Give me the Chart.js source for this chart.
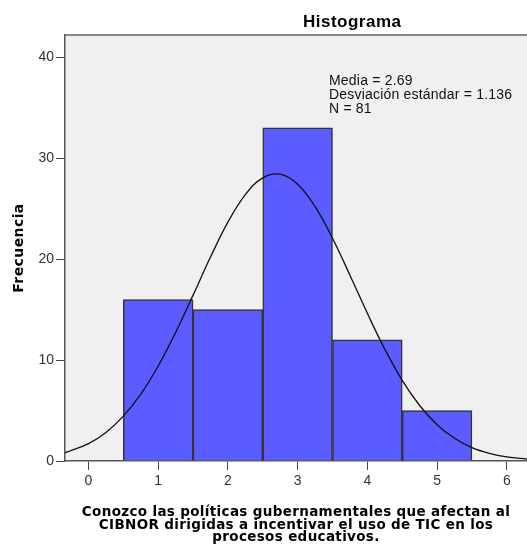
<!DOCTYPE html>
<html><head><meta charset="utf-8">
<script src="https://cdn.jsdelivr.net/npm/chart.js@4/dist/chart.umd.min.js"></script>
<style>html,body{margin:0;padding:0;background:#fff}#wrap{width:527px;height:552px;position:relative}</style>
</head><body><div id="wrap"><canvas id="c" width="527" height="552"></canvas></div>
<script>
// ---- data ----
const categories = [1, 2, 3, 4, 5];
const frequencies = [16, 15, 33, 12, 5];
const curveX = [-0.34, 0, 0.25, 0.5, 0.75, 1, 1.25, 1.5, 1.75, 2, 2.25, 2.5, 2.75, 3, 3.25, 3.5, 3.75, 4, 4.25, 4.5, 4.75, 5, 5.25, 5.5, 5.75, 6, 6.3];
const curveY = [0.81, 1.72, 2.83, 4.44, 6.62, 9.41, 12.74, 16.43, 20.20, 23.66, 26.39, 28.05, 28.41, 27.41, 25.19, 22.07, 18.41, 14.63, 11.08, 7.99, 5.50, 3.60, 2.25, 1.33, 0.76, 0.41, 0.18];
const xTicks = [0, 1, 2, 3, 4, 5, 6];
const yTicks = [0, 10, 20, 30, 40];
const titleText = 'Histograma';
const statsLines = ['Media = 2.69', 'Desviación estándar = 1.136', 'N = 81'];
const yTitleText = 'Frecuencia';
const xTitleLines = ['Conozco las políticas gubernamentales que afectan al', 'CIBNOR dirigidas a incentivar el uso de TIC en los', 'procesos educativos.'];

const SANS = '"Liberation Sans", Arial, sans-serif';
const WIDE = '"DejaVu Sans", Verdana, sans-serif';

function spacingFor(ctx, text, target) {
  ctx.letterSpacing = '0px';
  const w = ctx.measureText(text).width;
  return (target - w) / Math.max(1, text.length - 1);
}

const bgPlugin = {
  id: 'bg',
  beforeDraw(chart) {
    const {ctx, chartArea: a} = chart;
    ctx.save();
    ctx.fillStyle = '#f0f0f0';
    ctx.fillRect(a.left, a.top, a.right - a.left, a.bottom - a.top);
    ctx.restore();
  },
  afterDraw(chart) {
    const {ctx, chartArea: a} = chart;
    ctx.save();
    ctx.strokeStyle = '#666';
    ctx.lineWidth = 1.5;
    ctx.beginPath();
    ctx.moveTo(a.left, a.top);
    ctx.lineTo(a.right, a.top);
    ctx.stroke();

    ctx.fillStyle = '#000';
    ctx.font = 'bold 17px ' + SANS;
    ctx.textAlign = 'left';
    ctx.textBaseline = 'alphabetic';
    let s = spacingFor(ctx, titleText, 98);
    ctx.letterSpacing = s + 'px';
    ctx.fillText(titleText, 303, 27);

    ctx.font = '14px ' + SANS;
    ctx.fillStyle = '#111';
    s = spacingFor(ctx, statsLines[1], 183);
    ctx.letterSpacing = s + 'px';
    const base = [85, 99, 113];
    statsLines.forEach((t, i) => ctx.fillText(t, 329, base[i]));

    ctx.fillStyle = '#000';
    ctx.font = 'bold 14px ' + WIDE;
    s = spacingFor(ctx, yTitleText, 89);
    ctx.letterSpacing = s + 'px';
    ctx.save();
    ctx.translate(19, 248);
    ctx.rotate(-Math.PI / 2);
    ctx.textAlign = 'center';
    ctx.textBaseline = 'middle';
    ctx.fillText(yTitleText, 0, 0);
    ctx.restore();

    ctx.font = 'bold 13.5px ' + WIDE;
    s = spacingFor(ctx, xTitleLines[0], 428);
    ctx.letterSpacing = s + 'px';
    ctx.textAlign = 'center';
    ctx.textBaseline = 'alphabetic';
    const xb = [516, 528.5, 541];
    xTitleLines.forEach((t, i) => ctx.fillText(t, 296, xb[i]));
    ctx.restore();
  }
};

const ctx = document.getElementById('c').getContext('2d');
new Chart(ctx, {
  type: 'bar',
  data: {
    datasets: [
      {
        type: 'line',
        data: curveX.map((x, i) => ({x: x, y: curveY[i]})),
        borderColor: '#111',
        borderWidth: 1.3,
        pointRadius: 0,
        tension: 0.4,
        fill: false,
        order: 0
      },
      {
        type: 'bar',
        data: categories.map((c, i) => ({x: c, y: frequencies[i]})),
        backgroundColor: '#5a5cff',
        borderColor: '#333',
        borderWidth: 1.5,
        borderSkipped: 'start',
        barPercentage: 1,
        categoryPercentage: 1,
        order: 1
      }
    ]
  },
  options: {
    responsive: false,
    animation: false,
    events: [],
    layout: {padding: {top: 35, left: 0, right: 0, bottom: 0}},
    plugins: {legend: {display: false}, tooltip: {enabled: false}, title: {display: false}},
    scales: {
      x: {
        type: 'linear',
        position: 'bottom',
        min: -0.337,
        max: 6.29,
        offset: false,
        afterBuildTicks: (sc) => { sc.ticks = xTicks.map(v => ({value: v})); },
        afterFit: (sc) => { sc.height = 91; },
        grid: {display: true, drawOnChartArea: false, drawTicks: true, tickLength: 9, color: '#444', lineWidth: 1, offset: false},
        border: {display: true, color: '#555', width: 1.5},
        ticks: {font: {family: SANS, size: 14}, color: '#333', padding: 3, maxRotation: 0, autoSkip: false}
      },
      y: {
        type: 'linear',
        position: 'left',
        min: 0,
        max: 42.2,
        afterBuildTicks: (sc) => { sc.ticks = yTicks.map(v => ({value: v})); },
        afterFit: (sc) => { sc.width = 65; },
        grid: {display: true, drawOnChartArea: false, drawTicks: true, tickLength: 9, color: '#444', lineWidth: 1},
        border: {display: true, color: '#555', width: 1.5},
        ticks: {font: {family: SANS, size: 14}, color: '#333', padding: 2}
      }
    }
  },
  plugins: [bgPlugin]
});
</script>
</body></html>
